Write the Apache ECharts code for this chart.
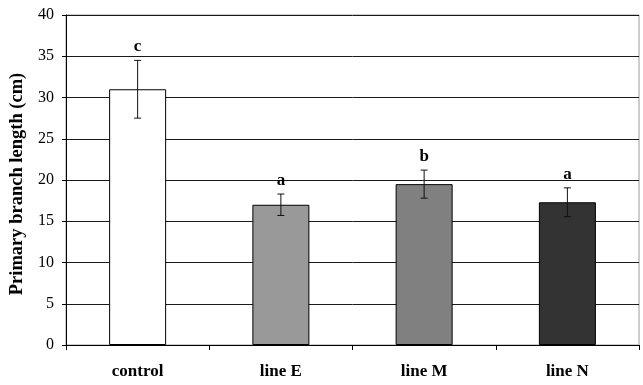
<!DOCTYPE html>
<html>
<head>
<meta charset="utf-8">
<script src="https://cdn.jsdelivr.net/npm/echarts@6/dist/echarts.min.js"></script>
<style>
  html, body { margin: 0; padding: 0; background: #fff; }
  #chart { width: 643px; height: 385px; }
</style>
</head>
<body>
<div id="chart"></div>
<script>
// data
var categories = ['control', 'line E', 'line M', 'line N'];
var means = [31.0, 17.0, 19.5, 17.3];
var errors = [3.5, 1.3, 1.7, 1.75];
var letters = ['c', 'a', 'b', 'a'];
var barColors = ['#ffffff', '#999999', '#808080', '#333333'];

var serif = '"Liberation Serif", "Times New Roman", serif';

var chart = echarts.init(document.getElementById('chart'));

chart.setOption({
  animation: false,
  grid: {
    left: 66, right: 4, top: 15, bottom: 40,
    show: true, borderColor: '#9a9a9a', borderWidth: 1
  },
  xAxis: {
    type: 'category',
    data: categories,
    axisLine: { lineStyle: { color: '#000', width: 1 } },
    axisTick: { show: true, length: 5, inside: false, lineStyle: { color: '#000' } },
    axisLabel: { margin: 18, fontFamily: serif, fontSize: 17, fontWeight: 'bold', color: '#000' }
  },
  yAxis: {
    type: 'value',
    min: 0, max: 40, interval: 5,
    name: 'Primary branch length (cm)',
    nameLocation: 'middle',
    nameGap: 28,
    nameTextStyle: {
      fontFamily: serif, fontSize: 18.5, fontWeight: 'bold', color: '#000',
      padding: [0, 8, 0, 0]
    },
    axisLine: { show: true, lineStyle: { color: '#000', width: 1 } },
    axisTick: { show: true, length: 4, lineStyle: { color: '#000' } },
    axisLabel: { margin: 12, fontFamily: serif, fontSize: 16, color: '#000' },
    splitLine: { show: true, lineStyle: { color: '#1a1a1a', width: 1 } }
  },
  series: [
    {
      type: 'bar',
      barWidth: 57,
      data: means.map(function (v, i) {
        return { value: v, itemStyle: { color: barColors[i] } };
      }),
      itemStyle: { borderColor: '#000', borderWidth: 1 }
    },
    {
      type: 'custom',
      data: means.map(function (v, i) { return [i, v, errors[i]]; }),
      z: 10,
      renderItem: function (params, api) {
        var i = api.value(0);
        var m = api.value(1);
        var e = api.value(2);
        var hi = api.coord([i, m + e]);
        var lo = api.coord([i, m - e]);
        var x = hi[0];
        var cap = 3.5;
        var style = { stroke: '#111', lineWidth: 1 };
        return {
          type: 'group',
          children: [
            { type: 'line', shape: { x1: x, y1: hi[1], x2: x, y2: lo[1] }, style: style },
            { type: 'line', shape: { x1: x - cap, y1: hi[1], x2: x + cap, y2: hi[1] }, style: style },
            { type: 'line', shape: { x1: x - cap, y1: lo[1], x2: x + cap, y2: lo[1] }, style: style },
            {
              type: 'text',
              style: {
                x: x, y: hi[1] - 5,
                text: letters[params.dataIndex],
                align: 'center', verticalAlign: 'bottom',
                font: 'bold 17px ' + serif,
                fill: '#000'
              }
            }
          ]
        };
      }
    }
  ]
});
</script>
</body>
</html>
